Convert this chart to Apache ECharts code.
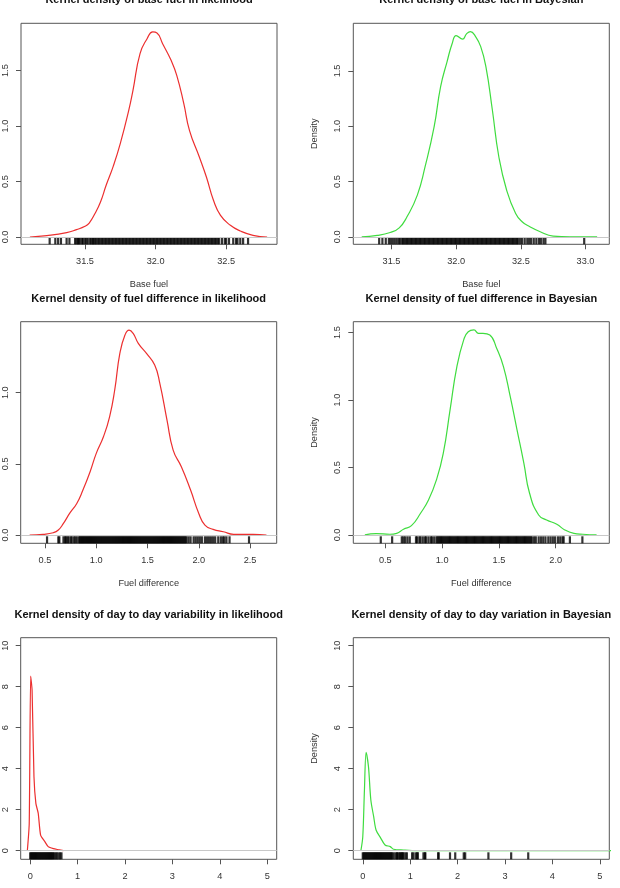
<!DOCTYPE html>
<html>
<head>
<meta charset="utf-8">
<script src="https://cdn.jsdelivr.net/npm/echarts@6/dist/echarts.min.js"></script>
<style>
html, body { margin: 0; padding: 0; background: #fff; }
#chart { width: 620px; height: 888px; }
</style>
</head>
<body>
<div id="chart"></div>
<script>
// titles / axis names
const titles = [
  'Kernel density of base fuel in likelihood',
  'Kernel density of base fuel in Bayesian',
  'Kernel density of fuel difference in likelihood',
  'Kernel density of fuel difference in Bayesian',
  'Kernel density of day to day variability in likelihood',
  'Kernel density of day to day variation in Bayesian'
]
const xNames = ['Base fuel', 'Base fuel', 'Fuel difference', 'Fuel difference', '', '']
const yNames = ['', 'Density', '', 'Density', '', 'Density']

// tick labels
const baseLikXTicks = [31.5, 32.0, 32.5]
const baseBayXTicks = [31.5, 32.0, 32.5, 33.0]
const diffLikXTicks = [0.5, 1.0, 1.5, 2.0, 2.5]
const diffBayXTicks = [0.5, 1.0, 1.5, 2.0]
const dayXTicks = [0, 1, 2, 3, 4, 5]
const densYTicks = [0, 0.5, 1.0, 1.5]
const diffLikYTicks = [0, 0.5, 1.0]
const dayYTicks = [0, 2, 4, 6, 8, 10]

// density curves
const baseLikX = [31.11, 31.23, 31.37, 31.44, 31.50, 31.53, 31.57, 31.61, 31.65, 31.70, 31.75, 31.81, 31.84, 31.89, 31.94, 31.98, 32.01, 32.05, 32.11, 32.15, 32.20, 32.24, 32.31, 32.36, 32.41, 32.46, 32.53, 32.60, 32.69, 32.79]
const baseLikY = [0, 0.012, 0.039, 0.066, 0.096, 0.126, 0.21, 0.316, 0.466, 0.637, 0.842, 1.142, 1.323, 1.653, 1.788, 1.849, 1.84, 1.743, 1.593, 1.458, 1.202, 0.962, 0.721, 0.541, 0.331, 0.195, 0.105, 0.054, 0.015, 0]

const baseBayX = [31.27, 31.39, 31.49, 31.56, 31.62, 31.70, 31.76, 31.83, 31.88, 31.93, 31.97, 32.00, 32.05, 32.08, 32.11, 32.15, 32.19, 32.23, 32.28, 32.33, 32.39, 32.46, 32.51, 32.57, 32.65, 32.75, 32.88, 33.09]
const baseBayY = [0, 0.012, 0.039, 0.081, 0.181, 0.377, 0.634, 0.996, 1.358, 1.585, 1.751, 1.82, 1.787, 1.835, 1.856, 1.811, 1.72, 1.539, 1.147, 0.724, 0.423, 0.211, 0.136, 0.091, 0.045, 0.006, 0, 0]

const diffLikX = [0.35, 0.48, 0.58, 0.63, 0.68, 0.74, 0.81, 0.87, 0.94, 1.00, 1.07, 1.13, 1.18, 1.23, 1.28, 1.32, 1.36, 1.41, 1.49, 1.57, 1.62, 1.69, 1.75, 1.83, 1.92, 2.00, 2.06, 2.14, 2.24, 2.34, 2.47, 2.53, 2.66]
const diffLikY = [0, 0.005, 0.016, 0.035, 0.082, 0.152, 0.222, 0.316, 0.445, 0.574, 0.691, 0.831, 1.019, 1.276, 1.405, 1.44, 1.417, 1.347, 1.276, 1.194, 1.066, 0.808, 0.597, 0.48, 0.316, 0.152, 0.07, 0.04, 0.023, 0.005, 0.005, 0.005, 0]

const diffBayX = [0.32, 0.42, 0.54, 0.60, 0.66, 0.73, 0.81, 0.88, 0.95, 1.01, 1.07, 1.13, 1.19, 1.23, 1.28, 1.32, 1.36, 1.42, 1.48, 1.54, 1.60, 1.66, 1.72, 1.77, 1.85, 1.92, 2.01, 2.08, 2.16, 2.24, 2.36]
const diffBayY = [0, 0.01, 0.005, 0.012, 0.042, 0.069, 0.161, 0.259, 0.408, 0.605, 0.927, 1.248, 1.446, 1.507, 1.52, 1.495, 1.495, 1.483, 1.384, 1.248, 1.025, 0.778, 0.531, 0.309, 0.148, 0.111, 0.079, 0.037, 0.012, 0.005, 0]

const dayLikX = [-0.06, -0.02, 0.01, 0.04, 0.08, 0.12, 0.17, 0.22, 0.31, 0.38, 0.49, 0.59, 0.70]
const dayLikY = [0, 1.33, 8.52, 7.84, 3.61, 2.31, 1.82, 0.76, 0.44, 0.2, 0.1, 0.05, 0]

const dayBayX = [-0.04, 0.00, 0.035, 0.07, 0.12, 0.17, 0.23, 0.28, 0.37, 0.47, 0.58, 0.65, 0.86, 1.14, 5.25]
const dayBayY = [0, 0.68, 2.96, 4.8, 4.1, 2.47, 1.66, 1.01, 0.65, 0.28, 0.2, 0.07, 0.03, 0, 0]

// rug marks (observations)
const baseLikRug = [31.25, 31.29, 31.31, 31.33, 31.37, 31.39, 31.43, 31.44, 31.45, 31.455, 31.465, 31.48, 31.485, 31.50, 31.51, 31.52, 31.535, 31.545, 31.555,
  31.56, 31.57, 31.58, 31.59, 31.60, 31.61, 31.62, 31.63, 31.64, 31.65, 31.66, 31.67, 31.68, 31.69, 31.70, 31.71, 31.72, 31.73, 31.74, 31.75,
  31.76, 31.77, 31.78, 31.79, 31.80, 31.81, 31.82, 31.83, 31.84, 31.85, 31.86, 31.87, 31.88, 31.89, 31.90, 31.91, 31.92, 31.93, 31.94, 31.95,
  31.96, 31.97, 31.98, 31.99, 32.00, 32.01, 32.02, 32.03, 32.04, 32.05, 32.06, 32.07, 32.08, 32.09, 32.10, 32.11, 32.12, 32.13, 32.14, 32.15,
  32.16, 32.17, 32.18, 32.19, 32.20, 32.21, 32.22, 32.23, 32.24, 32.25, 32.26, 32.27, 32.28, 32.29, 32.30, 32.31, 32.32, 32.33, 32.34, 32.35,
  32.36, 32.37, 32.38, 32.39, 32.40, 32.41, 32.42, 32.43, 32.44, 32.45,
  32.47, 32.49, 32.50, 32.52, 32.55, 32.57, 32.58, 32.60, 32.62, 32.655]

const baseBayRug = [31.405, 31.43, 31.456, 31.48, 31.495, 31.51, 31.525, 31.54, 31.555, 31.565, 31.58,
  31.59, 31.60, 31.61, 31.62, 31.63, 31.64, 31.65, 31.66, 31.67, 31.68, 31.69, 31.70, 31.71, 31.72, 31.73, 31.74, 31.75,
  31.76, 31.77, 31.78, 31.79, 31.80, 31.81, 31.82, 31.83, 31.84, 31.85, 31.86, 31.87, 31.88, 31.89, 31.90, 31.91, 31.92, 31.93, 31.94, 31.95,
  31.96, 31.97, 31.98, 31.99, 32.00, 32.01, 32.02, 32.03, 32.04, 32.05, 32.06, 32.07, 32.08, 32.09, 32.10, 32.11, 32.12, 32.13, 32.14, 32.15,
  32.16, 32.17, 32.18, 32.19, 32.20, 32.21, 32.22, 32.23, 32.24, 32.25, 32.26, 32.27, 32.28, 32.29, 32.30, 32.31, 32.32, 32.33, 32.34, 32.35,
  32.36, 32.37, 32.38, 32.39, 32.40, 32.41, 32.42, 32.43, 32.44, 32.45, 32.46, 32.47, 32.48,
  32.495, 32.51, 32.53, 32.55, 32.565, 32.58, 32.60, 32.62, 32.64, 32.655, 32.675, 32.69, 32.99]

const diffLikRug = [0.52, 0.63, 0.64, 0.68, 0.695, 0.705, 0.72, 0.73, 0.75, 0.76, 0.78, 0.795, 0.81, 0.83,
  0.84, 0.85, 0.86, 0.87, 0.88, 0.89, 0.90, 0.91, 0.92, 0.93, 0.94, 0.95, 0.96, 0.97, 0.98, 0.99,
  1.00, 1.01, 1.02, 1.03, 1.04, 1.05, 1.06, 1.07, 1.08, 1.09, 1.10, 1.11, 1.12, 1.13, 1.14, 1.15, 1.16, 1.17, 1.18, 1.19,
  1.20, 1.21, 1.22, 1.23, 1.24, 1.25, 1.26, 1.27, 1.28, 1.29, 1.30, 1.31, 1.32, 1.33, 1.34, 1.35, 1.36, 1.37, 1.38, 1.39,
  1.40, 1.41, 1.42, 1.43, 1.44, 1.45, 1.46, 1.47, 1.48, 1.49, 1.50, 1.51, 1.52, 1.53, 1.54, 1.55, 1.56, 1.57, 1.58, 1.59,
  1.60, 1.61, 1.62, 1.63, 1.64, 1.65, 1.66, 1.67, 1.68, 1.69, 1.70, 1.71, 1.72, 1.73, 1.74, 1.75, 1.76, 1.77, 1.78, 1.79,
  1.80, 1.81, 1.82, 1.83, 1.84, 1.85, 1.86, 1.87, 1.88,
  1.90, 1.92, 1.95, 1.97, 1.99, 2.01, 2.03, 2.06, 2.08, 2.10, 2.12, 2.14, 2.16, 2.19, 2.215, 2.235, 2.25, 2.27, 2.30, 2.49]

const diffBayRug = [0.46, 0.56, 0.645, 0.66, 0.675, 0.695, 0.715, 0.77, 0.78, 0.80, 0.81, 0.83, 0.85, 0.86, 0.88, 0.90, 0.91, 0.93, 0.95,
  0.96, 0.97, 0.98, 0.99, 1.00, 1.01, 1.02, 1.03, 1.04, 1.05, 1.06, 1.07, 1.08, 1.09, 1.10, 1.11, 1.12, 1.13, 1.14, 1.15, 1.16, 1.17, 1.18, 1.19,
  1.20, 1.21, 1.22, 1.23, 1.24, 1.25, 1.26, 1.27, 1.28, 1.29, 1.30, 1.31, 1.32, 1.33, 1.34, 1.35, 1.36, 1.37, 1.38, 1.39,
  1.40, 1.41, 1.42, 1.43, 1.44, 1.45, 1.46, 1.47, 1.48, 1.49, 1.50, 1.51, 1.52, 1.53, 1.54, 1.55, 1.56, 1.57, 1.58, 1.59,
  1.60, 1.61, 1.62, 1.63, 1.64, 1.65, 1.66, 1.67, 1.68, 1.69, 1.70, 1.71, 1.72, 1.73, 1.74, 1.75, 1.76, 1.77, 1.78, 1.79,
  1.81, 1.825, 1.85, 1.87, 1.89, 1.91, 1.935, 1.955, 1.975, 1.995, 2.02, 2.04, 2.06, 2.07, 2.125, 2.235]

const dayLikRug = [0.00, 0.02, 0.04, 0.06, 0.08, 0.10, 0.12, 0.14, 0.16, 0.18, 0.20, 0.22, 0.24, 0.26, 0.28, 0.30, 0.32, 0.34, 0.36, 0.38, 0.40, 0.42, 0.44, 0.46,
  0.48, 0.505, 0.535, 0.56, 0.595, 0.63, 0.66]

const dayBayRug = [0.00, 0.02, 0.04, 0.06, 0.08, 0.10, 0.12, 0.14, 0.16, 0.18, 0.20, 0.22, 0.24, 0.26, 0.28, 0.30, 0.32, 0.34, 0.36, 0.38, 0.40,
  0.42, 0.44, 0.46, 0.48, 0.50, 0.52, 0.54, 0.56, 0.58, 0.60, 0.62,
  0.65, 0.69, 0.72, 0.73, 0.76, 0.79, 0.80, 0.83, 0.84, 0.86, 0.90, 0.93, 1.04, 1.07, 1.12, 1.15, 1.16, 1.28, 1.31, 1.32,
  1.59, 1.60, 1.84, 1.95, 2.13, 2.16, 2.65, 3.13, 3.49]

const RED = '#ec2f2f'
const GREEN = '#3fdc3f'
const FONT = '"Liberation Sans", Arial, sans-serif'

// layout of the 2x3 panels
const panels = [
  { left: 21, top: 23.3, h: 221, xr: [31.047, 32.86], yr: [-0.066, 1.927], xt: baseLikXTicks, yt: densYTicks, d: 1, cx: baseLikX, cy: baseLikY, rug: baseLikRug, color: RED, titleY: 0, smooth: 0.5 },
  { left: 353.3, top: 23.3, h: 221, xr: [31.205, 33.184], yr: [-0.068, 1.931], xt: baseBayXTicks, yt: densYTicks, d: 1, cx: baseBayX, cy: baseBayY, rug: baseBayRug, color: GREEN, titleY: 0, smooth: 0.5 },
  { left: 20.7, top: 321.7, h: 221.6, xr: [0.263, 2.76], yr: [-0.058, 1.499], xt: diffLikXTicks, yt: diffLikYTicks, d: 1, cx: diffLikX, cy: diffLikY, rug: diffLikRug, color: RED, titleY: 298.5, smooth: 0.5 },
  { left: 353.3, top: 321.7, h: 221.6, xr: [0.218, 2.472], yr: [-0.062, 1.581], xt: diffBayXTicks, yt: densYTicks, d: 1, cx: diffBayX, cy: diffBayY, rug: diffBayRug, color: GREEN, titleY: 298.5, smooth: 0.5 },
  { left: 20.7, top: 637.7, h: 221.6, xr: [-0.2, 5.2], yr: [-0.42, 10.39], xt: dayXTicks, yt: dayYTicks, d: 0, cx: dayLikX, cy: dayLikY, rug: dayLikRug, color: RED, titleY: 614.5, smooth: 0.2 },
  { left: 353.3, top: 637.7, h: 221.6, xr: [-0.2, 5.2], yr: [-0.42, 10.39], xt: dayXTicks, yt: dayYTicks, d: 0, cx: dayBayX, cy: dayBayY, rug: dayBayRug, color: GREEN, titleY: 614.5, smooth: 0.3 }
]
const W = 256

const chart = echarts.init(document.getElementById('chart'))

const grid = panels.map(p => ({
  left: p.left, top: p.top, width: W, height: p.h,
  show: true, borderColor: '#555', borderWidth: 1, backgroundColor: 'transparent'
}))

const xAxis = panels.map((p, i) => ({
  gridIndex: i, type: 'value', min: p.xr[0], max: p.xr[1],
  axisLine: { show: false, onZero: false },
  axisTick: { show: true, customValues: p.xt, length: 5, lineStyle: { color: '#555' } },
  axisLabel: { customValues: p.xt, formatter: v => v.toFixed(p.d), fontSize: 9.2, color: '#333', margin: 13, fontFamily: FONT },
  splitLine: { show: false },
  name: xNames[i], nameLocation: 'middle', nameGap: 36,
  nameTextStyle: { fontSize: 9.2, color: '#333', fontFamily: FONT }
}))

const yAxis = panels.map((p, i) => ({
  gridIndex: i, type: 'value', min: p.yr[0], max: p.yr[1],
  axisLine: { show: false, onZero: false },
  axisTick: { show: true, customValues: p.yt, length: 5, lineStyle: { color: '#555' } },
  axisLabel: { customValues: p.yt, rotate: 90, formatter: v => v.toFixed(p.d), fontSize: 9.2, color: '#333', margin: 11, fontFamily: FONT },
  splitLine: { show: false },
  name: yNames[i], nameLocation: 'middle', nameGap: 34,
  nameTextStyle: { fontSize: 9.2, color: '#333', fontFamily: FONT }
}))

const series = []
panels.forEach((p, i) => {
  series.push({
    type: 'line', xAxisIndex: i, yAxisIndex: i,
    data: p.cx.map((x, k) => [x, p.cy[k]]),
    showSymbol: false, smooth: p.smooth, silent: true,
    lineStyle: { color: p.color, width: 1.2 },
    markLine: {
      silent: true, symbol: 'none', label: { show: false },
      lineStyle: { color: '#c8c8c8', type: 'solid', width: 1 },
      data: [{ yAxis: 0 }]
    }
  })
  series.push({
    type: 'scatter', xAxisIndex: i, yAxisIndex: i,
    data: p.rug.map(v => [v, p.yr[0]]),
    symbol: 'rect', symbolSize: [2.2, 7], symbolOffset: [0, -3.5],
    clip: false, silent: true,
    itemStyle: { color: '#000' }
  })
})

const graphic = panels.map((p, i) => ({
  type: 'text', x: p.left + W / 2, y: p.titleY,
  style: {
    text: titles[i], align: 'center', verticalAlign: 'middle',
    font: 'bold 11px ' + FONT, fill: '#111'
  }
}))

chart.setOption({
  animation: false,
  grid, xAxis, yAxis, series, graphic
})
</script>
</body>
</html>
